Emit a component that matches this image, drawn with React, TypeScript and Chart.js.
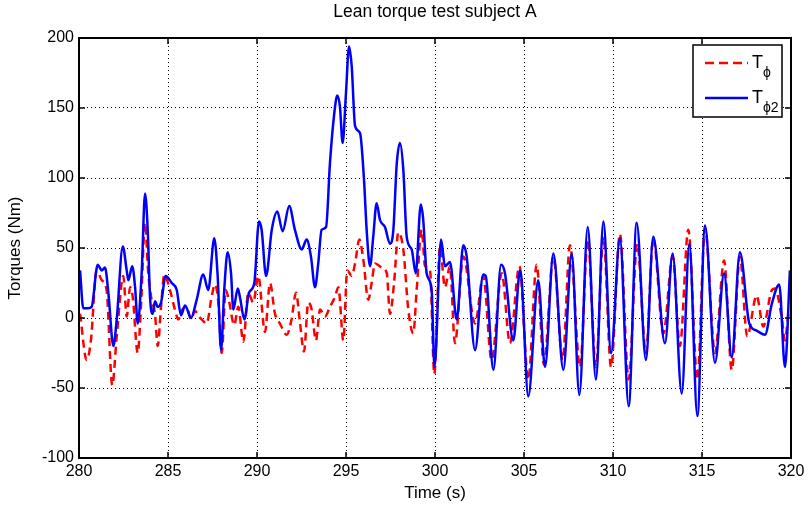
import { useEffect, useRef } from "react";
import { Chart, registerables } from "chart.js";

Chart.register(...registerables);

// Axis ticks
const xTicks = [280, 285, 290, 295, 300, 305, 310, 315, 320];
const yTicks = [-100, -50, 0, 50, 100, 150, 200];

const chartTitle = "Lean torque test subject A";

// T_phi (measured lean torque), dashed red
const tPhiTime = [
  280.06, 280.43, 280.67, 280.99, 281.28, 281.55, 281.87, 282.12, 282.49, 282.68,
  282.87, 283.02, 283.3, 283.48, 283.71, 283.89, 284.08, 284.27, 284.42, 284.61,
  284.79, 285.11, 285.39, 285.58, 285.8, 286.05, 286.29, 286.52, 286.74, 286.89,
  287.17, 287.45, 287.64, 287.83, 288.02, 288.24, 288.43, 288.72, 288.95, 289.23,
  289.51, 289.79, 290.07, 290.45, 290.73, 291.01, 291.29, 291.67, 291.94, 292.19,
  292.42, 292.64, 292.88, 293.07, 293.31, 293.54, 293.82, 294.1, 294.38, 294.57,
  294.85, 295.07, 295.32, 295.51, 295.75, 295.98, 296.25, 296.44, 296.63, 297.01,
  297.29, 297.47, 297.7, 297.94, 298.22, 298.5, 298.78, 298.97, 299.25, 299.44,
  299.72, 299.96, 300.28, 300.56, 300.84, 301.12, 301.59, 302.25, 302.71, 303.18,
  303.75, 304.21, 304.74, 305.24, 305.71, 306.12, 306.65, 307.17, 307.58, 308.15,
  308.58, 309.04, 309.46, 309.89, 310.39, 310.88, 311.36, 311.85, 312.26, 312.83,
  313.35, 313.76, 314.23, 314.74, 315.17, 315.73, 316.24, 316.67, 317.13, 317.54,
  318.07, 318.44, 318.93, 319.1, 319.47, 319.66, 319.85,
];
const tPhiTorque = [
  3, -30, -16, 34, 27, 20, -48, -13, 30, 1,
  22, 15, -25, 8, 68, 32, 13, 3, -20, 8,
  31, 20, 6, -1, 6, 8, -1, 5, 1, -1,
  -4, 15, 24, 11, -25, 20, 12, -5, 8, -17,
  18, 11, 30, -10, 25, 3, -4, -12, -1, 18,
  -4, -24, 11, 6, -16, 6, 1, 8, 15, 22,
  -16, 34, 30, 39, 56, 41, 13, 25, 39, 36,
  32, 3, 25, 61, 49, 6, -11, 20, 63, 37,
  34, -40, 51, 22, 37, -18, 44, -4, 30, -30,
  32, -18, 37, -44, 38, -33, 44, -30, 52, -35,
  56, -35, 58, -35, 60, -44, 53, -25, 57, -11,
  44, -20, 63, -44, 64, -25, 41, -37, 44, -13,
  16, -6, 20, 21, 1, -16, 3,
];

// T_phi2 (estimated lean torque), solid blue
const tPhi2Time = [
  280.06, 280.24, 280.52, 280.71, 281.05, 281.28, 281.46, 281.65, 281.93, 282.12,
  282.46, 282.68, 282.77, 282.99, 283.15, 283.3, 283.52, 283.71, 283.86, 283.99,
  284.14, 284.27, 284.42, 284.61, 284.87, 285.21, 285.49, 285.73, 285.96, 286.29,
  286.61, 286.98, 287.26, 287.6, 287.79, 287.98, 288.16, 288.35, 288.54, 288.67,
  288.92, 289.04, 289.29, 289.55, 289.85, 290.11, 290.26, 290.51, 290.83, 291.14,
  291.44, 291.81, 292.13, 292.51, 292.79, 293.03, 293.26, 293.44, 293.63, 293.88,
  294.1, 294.34, 294.51, 294.66, 294.81, 295.0, 295.17, 295.32, 295.51, 295.79,
  296.01, 296.16, 296.35, 296.53, 296.72, 296.91, 297.19, 297.47, 297.66, 297.85,
  298.03, 298.22, 298.41, 298.69, 298.92, 299.2, 299.34, 299.53, 299.81, 299.97,
  300.34, 300.56, 300.84, 301.22, 301.59, 301.78, 302.25, 302.71, 302.85, 303.28,
  303.71, 303.93, 304.4, 304.78, 304.87, 305.24, 305.8, 306.18, 306.65,
  307.21, 307.68, 308.11, 308.58, 309.04, 309.46, 309.89, 310.39, 310.88, 311.33,
  311.85, 312.26, 312.92, 313.35, 313.86, 314.29, 314.74, 315.17, 315.73, 316.24,
  316.67, 317.13, 317.66, 318.07, 318.54, 318.92, 319.34, 319.66, 319.94,
];
const tPhi2Torque = [
  34, 7, 7, 8, 38, 34, 36, 18, -20, -1,
  51, 34, 27, 37, 22, -4, 32, 89, 63, 15,
  3, 12, 8, 11, 30, 25, 20, 2, 9, 0,
  13, 31, 20, 57, 30, -23, 20, 47, 32, 6,
  21, 15, -1, 18, 25, 69, 63, 30, 63, 76,
  62, 80, 63, 49, 56, 44, 22, 39, 63, 65,
  111, 146, 159, 151, 125, 161, 194, 180, 137, 132,
  99, 63, 37, 58, 82, 70, 65, 53, 63, 110,
  125, 106, 58, 49, 32, 81, 70, 32, 20, -35,
  56, 37, 40, -1, 52, 44, -23, 31, 30, -37,
  38, 32, -16, 34, 27, -56, 27, -35, 46,
  -37, 46, -55, 65, -44, 69, -25, 57, -63, 68,
  -30, 58, -18, 46, -54, 53, -70, 66, -32, 32,
  -28, 47, -4, -9, -12, 10, 24, -35, 34,
];

const RED = "#ff0000";
const BLUE = "#0000ff";
const FONT = "'Liberation Sans', Arial, Helvetica, sans-serif";

const toPoints = (t: number[], v: number[]) => t.map((x, i) => ({ x, y: v[i] }));

// Title centred over the plot area
const titlePlugin = {
  id: "axesTitle",
  afterDraw(chart: any) {
    const { ctx, chartArea } = chart;
    ctx.save();
    ctx.fillStyle = "#000";
    ctx.font = `17.5px ${FONT}`;
    ctx.textAlign = "center";
    ctx.textBaseline = "middle";
    ctx.fillText(chartTitle, (chartArea.left + chartArea.right) / 2, 12);
    ctx.restore();
  },
};

// Box, inward tick marks on all four sides
const framePlugin = {
  id: "axesFrame",
  afterDatasetsDraw(chart: any) {
    const { ctx, chartArea, scales } = chart;
    const { left, right, top, bottom } = chartArea;
    const len = 6;
    ctx.save();
    ctx.strokeStyle = "#000";
    ctx.lineWidth = 1.5;
    ctx.setLineDash([]);
    ctx.beginPath();
    for (const t of xTicks) {
      const px = scales.x.getPixelForValue(t);
      ctx.moveTo(px, bottom);
      ctx.lineTo(px, bottom - len);
      ctx.moveTo(px, top);
      ctx.lineTo(px, top + len);
    }
    for (const t of yTicks) {
      const py = scales.y.getPixelForValue(t);
      ctx.moveTo(left, py);
      ctx.lineTo(left + len, py);
      ctx.moveTo(right, py);
      ctx.lineTo(right - len, py);
    }
    ctx.stroke();
    ctx.lineWidth = 2;
    ctx.strokeRect(left, top, right - left, bottom - top);
    ctx.restore();
  },
};

// Legend with subscripted labels
const legendEntries = [
  { main: "T", sub: "\u03d5", color: RED, dash: [9, 5] },
  { main: "T", sub: "\u03d52", color: BLUE, dash: [] as number[] },
];

const legendPlugin = {
  id: "subscriptLegend",
  afterDraw(chart: any) {
    const { ctx, chartArea } = chart;
    const boxW = 89;
    const boxH = 72;
    const x0 = chartArea.right - 98;
    const y0 = chartArea.top + 7;
    ctx.save();
    ctx.fillStyle = "#fff";
    ctx.fillRect(x0, y0, boxW, boxH);
    ctx.strokeStyle = "#000";
    ctx.lineWidth = 1.5;
    ctx.strokeRect(x0, y0, boxW, boxH);
    legendEntries.forEach((e, i) => {
      const cy = y0 + 18 + i * 35;
      ctx.strokeStyle = e.color;
      ctx.lineWidth = 2.5;
      ctx.setLineDash(e.dash);
      ctx.beginPath();
      ctx.moveTo(x0 + 12, cy);
      ctx.lineTo(x0 + 55, cy);
      ctx.stroke();
      ctx.setLineDash([]);
      ctx.fillStyle = "#000";
      ctx.textBaseline = "alphabetic";
      ctx.textAlign = "left";
      ctx.font = `18px ${FONT}`;
      ctx.fillText(e.main, x0 + 59, cy + 5);
      const w = ctx.measureText(e.main).width;
      ctx.font = `14px ${FONT}`;
      ctx.fillText(e.sub, x0 + 59 + w, cy + 14);
    });
    ctx.restore();
  },
};

export default function App() {
  const canvasRef = useRef<HTMLCanvasElement | null>(null);

  useEffect(() => {
    const canvas = canvasRef.current;
    if (!canvas) return;
    const chart = new Chart(canvas, {
      type: "line",
      data: {
        datasets: [
          {
            label: "T\u03d52",
            data: toPoints(tPhi2Time, tPhi2Torque),
            borderColor: BLUE,
            borderWidth: 2.5,
            pointRadius: 0,
            cubicInterpolationMode: "monotone",
            order: 0,
          },
          {
            label: "T\u03d5",
            data: toPoints(tPhiTime, tPhiTorque),
            borderColor: RED,
            borderWidth: 2.5,
            borderDash: [8, 5],
            pointRadius: 0,
            cubicInterpolationMode: "monotone",
            order: 1,
          },
        ],
      },
      options: {
        responsive: false,
        animation: false,
        devicePixelRatio: 1,
        layout: { padding: { left: 0, right: 18, top: 38, bottom: 0 } },
        plugins: {
          legend: { display: false },
          tooltip: { enabled: false },
          title: { display: false },
        },
        scales: {
          x: {
            type: "linear",
            min: 280,
            max: 320,
            afterFit: (s: any) => {
              s.height = 50;
            },
            afterBuildTicks: (s: any) => {
              s.ticks = xTicks.map((value) => ({ value }));
            },
            ticks: {
              color: "#000",
              font: { family: FONT, size: 16 },
              padding: 4,
              maxRotation: 0,
            },
            grid: {
              color: "#000",
              lineWidth: 1,
              drawTicks: false,
            },
            border: { display: false, dash: [1, 3] },
            title: {
              display: true,
              text: "Time (s)",
              color: "#000",
              font: { family: FONT, size: 17 },
              padding: { top: 0, bottom: 4.8 },
            },
          },
          y: {
            type: "linear",
            min: -100,
            max: 200,
            afterFit: (s: any) => {
              s.width = 79;
            },
            afterBuildTicks: (s: any) => {
              s.ticks = yTicks.map((value) => ({ value }));
            },
            ticks: {
              color: "#000",
              font: { family: FONT, size: 16 },
              padding: 5,
            },
            grid: {
              color: "#000",
              lineWidth: 1,
              drawTicks: false,
            },
            border: { display: false, dash: [1, 3] },
            title: {
              display: true,
              text: "Torques (Nm)",
              color: "#000",
              font: { family: FONT, size: 17 },
              padding: { top: 4.8, bottom: 0 },
            },
          },
        },
      },
      plugins: [framePlugin, legendPlugin, titlePlugin],
    });
    return () => chart.destroy();
  }, []);

  return (
    <div style={{ position: "absolute", left: 0, top: 0, width: 809, height: 508, background: "#fff" }}>
      <canvas ref={canvasRef} width={809} height={508} />
    </div>
  );
}
